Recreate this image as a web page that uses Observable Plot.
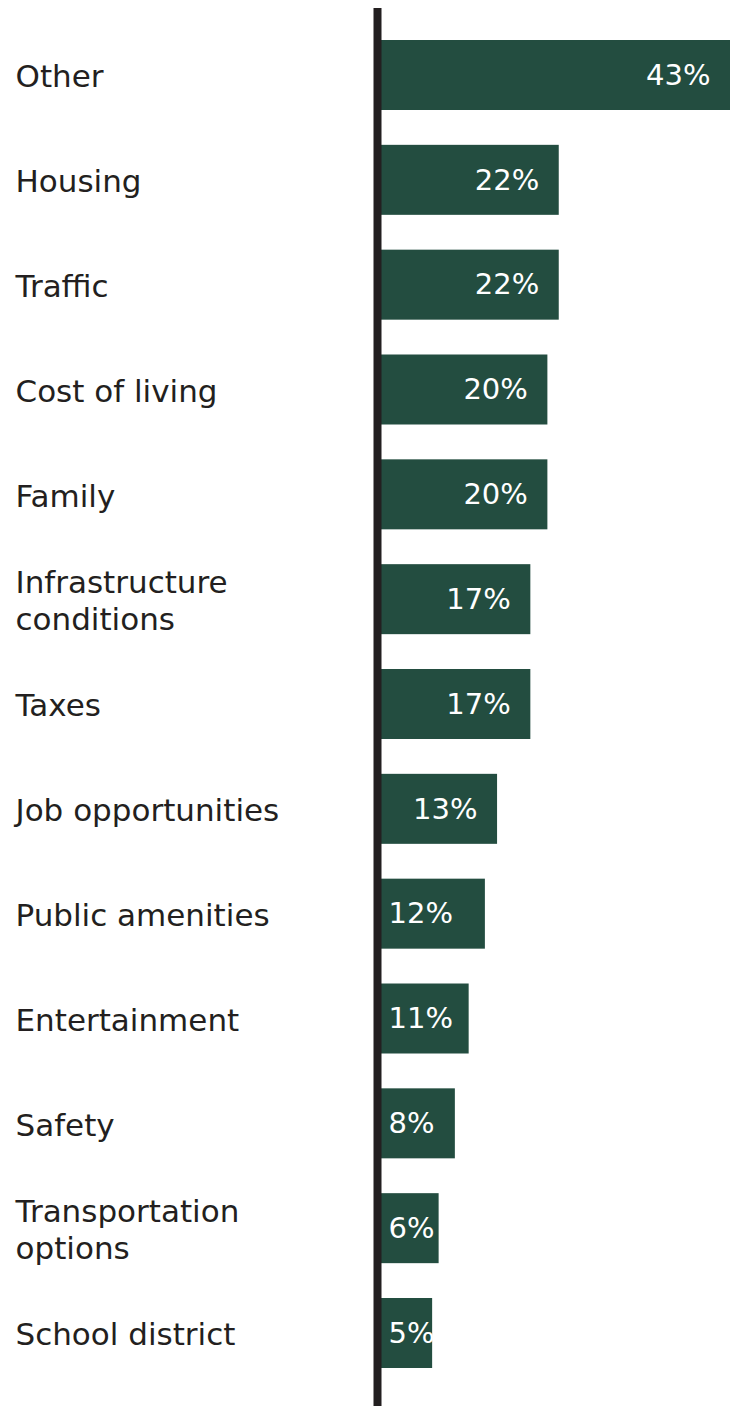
<!DOCTYPE html>
<html>
<head>
<meta charset="utf-8">
<script src="https://cdn.jsdelivr.net/npm/d3@7"></script>
<script src="https://cdn.jsdelivr.net/npm/@observablehq/plot@0.6"></script>
<style>
  html, body { margin: 0; padding: 0; background: #fff; }
  #chart svg { display: block; }
</style>
</head>
<body>
<div id="chart"></div>
<script>
const categories = ["Other", "Housing", "Traffic", "Cost of living", "Family",
  "Infrastructure\nconditions", "Taxes", "Job opportunities", "Public amenities",
  "Entertainment", "Safety", "Transportation\noptions", "School district"];
const barValues = [43, 21.9, 21.9, 20.5, 20.5, 18.4, 18.4, 14.3, 12.8, 10.8, 9.1, 7.1, 6.3];
const valueLabels = ["43%", "22%", "22%", "20%", "20%", "17%", "17%", "13%", "12%", "11%", "8%", "6%", "5%"];

const data = categories.map((c, i) => ({category: c, value: barValues[i], label: valueLabels[i]}));
const font = "'DejaVu Sans', sans-serif";

const chart = Plot.plot({
  width: 730,
  height: 1406,
  marginLeft: 381,
  marginRight: 0,
  marginTop: 40,
  marginBottom: 38,
  style: {fontFamily: font, background: "#fff"},
  x: {domain: [0, 43], axis: null},
  y: {domain: categories, axis: null, paddingInner: 0.3323, paddingOuter: 0, round: false},
  marks: [
    Plot.barX(data, {x: "value", y: "category", fill: "#234d40"}),
    Plot.ruleX([0], {stroke: "#231f20", strokeWidth: 8, dx: -4, insetTop: -32, insetBottom: -38}),
    Plot.text(data, {y: "category", text: "category", frameAnchor: "left", textAnchor: "start",
      dx: -366, fontSize: 31, fill: "#231f20", lineHeight: 1.18}),
    Plot.text(data.filter(d => d.value >= 14), {x: "value", y: "category", text: "label",
      textAnchor: "end", dx: -20, fill: "#fff", fontSize: 29}),
    Plot.text(data.filter(d => d.value < 14), {x: 0, y: "category", text: "label",
      textAnchor: "start", dx: 7, fill: "#fff", fontSize: 29})
  ]
});
document.getElementById("chart").appendChild(chart);
</script>
</body>
</html>
